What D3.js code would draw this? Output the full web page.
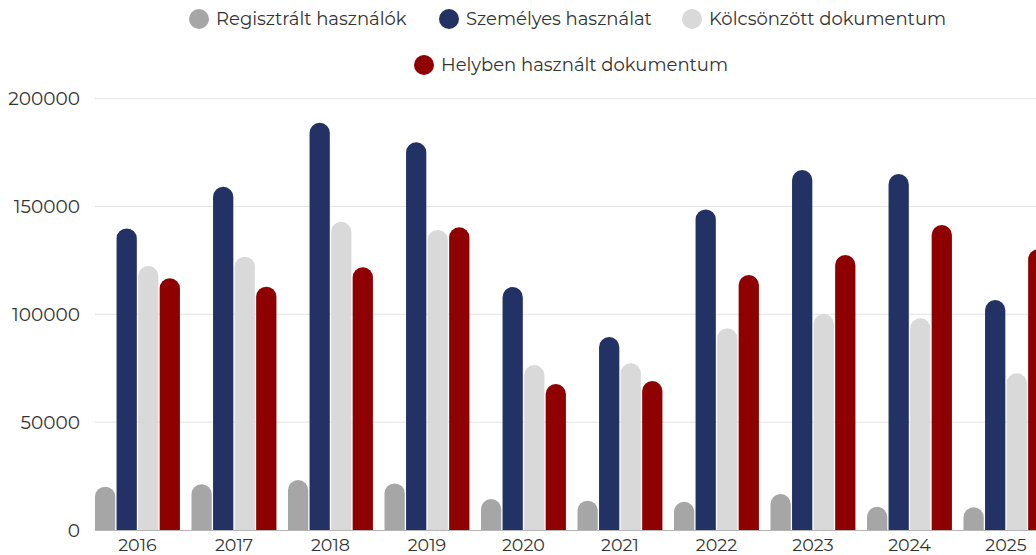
<!DOCTYPE html>
<html>
<head>
<meta charset="utf-8">
<script src="https://cdn.jsdelivr.net/npm/d3@7"></script>
<style>
  body { margin: 0; background: #fff; }
  svg { display: block; font-family: Montserrat, "DejaVu Sans", sans-serif; }
</style>
</head>
<body>
<svg width="1036" height="555"></svg>
<script>
const width = 1036;
const height = 555;

// Data
const years = ["2016", "2017", "2018", "2019", "2020", "2021", "2022", "2023", "2024", "2025"];
const seriesNames = ["Regisztrált használók", "Személyes használat", "Kölcsönzött dokumentum", "Helyben használt dokumentum"];
const colors = ["#a6a6a6", "#233264", "#d9d9d9", "#8f0000"];

const registered = [20100, 21200, 23200, 21600, 14400, 13600, 13100, 16700, 10800, 10500];
const personal = [139800, 159100, 188800, 179700, 112600, 89400, 148600, 166900, 165000, 106600];
const borrowed = [122400, 126700, 142900, 139100, 76500, 77300, 93500, 100100, 98100, 72600];
const onSite = [116700, 112800, 121800, 140300, 67700, 69100, 118200, 127500, 141400, 130100];

const yTicks = [0, 50000, 100000, 150000, 200000];

const series = [registered, personal, borrowed, onSite];

const margin = { left: 95, top: 98.5, bottom: 530 };

const svg = d3.select("svg").attr("width", width).attr("height", height);

// Scales
const x = d3.scaleBand()
  .domain(years)
  .range([margin.left, margin.left + 96.5 * (years.length - 0.12)])
  .paddingInner(0.12)
  .paddingOuter(0);

const xSub = d3.scaleBand()
  .domain(d3.range(series.length))
  .range([0, x.bandwidth()])
  .paddingInner(0.06);

const y = d3.scaleLinear()
  .domain([0, 200000])
  .range([margin.bottom, margin.top]);

// Gridlines
svg.append("g")
  .selectAll("line")
  .data(yTicks.slice(1))
  .join("line")
  .attr("x1", margin.left)
  .attr("x2", width)
  .attr("y1", d => y(d))
  .attr("y2", d => y(d))
  .style("stroke", "#e3e3e3")
  .style("stroke-width", 1);

// Y labels
svg.append("g")
  .selectAll("text")
  .data(yTicks)
  .join("text")
  .attr("x", 80)
  .attr("y", d => y(d))
  .attr("dy", "0.36em")
  .attr("text-anchor", "end")
  .style("font-size", "18.5px")
  .style("fill", "#333")
  .text(d => d);

// Bars with rounded tops
function barPath(x0, w, top, bottom) {
  const r = Math.min(w / 2, bottom - top);
  return `M${x0},${bottom}V${top + r}` +
    `A${w / 2},${r} 0 0 1 ${x0 + w},${top + r}V${bottom}Z`;
}

const groups = svg.append("g")
  .selectAll("g")
  .data(years)
  .join("g")
  .attr("transform", d => `translate(${x(d)},0)`);

groups.selectAll("path")
  .data((d, i) => series.map((s, k) => ({ k, v: s[i] })))
  .join("path")
  .attr("d", d => barPath(xSub(d.k), xSub.bandwidth(), y(d.v), y(0)))
  .style("fill", d => colors[d.k]);

// X axis line
svg.append("line")
  .attr("x1", margin.left)
  .attr("x2", width)
  .attr("y1", y(0) + 0.5)
  .attr("y2", y(0) + 0.5)
  .style("stroke", "#b5b5b5")
  .style("stroke-width", 1);

// Year labels
svg.append("g")
  .selectAll("text")
  .data(years)
  .join("text")
  .attr("x", d => x(d) + x.bandwidth() / 2)
  .attr("y", 545)
  .attr("dy", "0.36em")
  .attr("text-anchor", "middle")
  .style("font-size", "17.5px")
  .style("fill", "#333")
  .text(d => d);

// Legend
const legendPos = [
  { cx: 199, cy: 19 },
  { cx: 449, cy: 19 },
  { cx: 692, cy: 19 },
  { cx: 424, cy: 65 }
];

const legend = svg.append("g")
  .selectAll("g")
  .data(seriesNames)
  .join("g")
  .attr("transform", (d, i) => `translate(${legendPos[i].cx},${legendPos[i].cy})`);

legend.append("circle")
  .attr("r", 10)
  .style("fill", (d, i) => colors[i]);

legend.append("text")
  .attr("x", 17)
  .attr("dy", "0.36em")
  .style("font-size", "18px")
  .style("fill", "#333")
  .text(d => d);
</script>
</body>
</html>
